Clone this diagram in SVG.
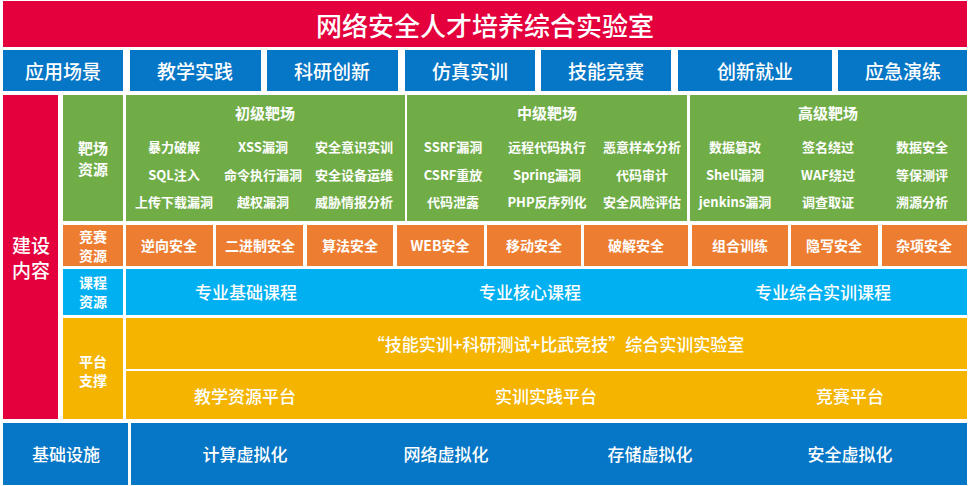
<svg xmlns="http://www.w3.org/2000/svg" width="970" height="486" viewBox="0 0 970 486">
<style>
text{font-family:"Noto Sans CJK SC","Microsoft YaHei",sans-serif;fill:#fff;text-anchor:middle;dominant-baseline:central}
.red{fill:#E4003D}.blue{fill:#0676C6}.green{fill:#70AD47}.orange{fill:#ED7D31}.cyan{fill:#00B0F0}.gold{fill:#F4B400}
.t26{font-size:26px;font-weight:500}.t19{font-size:19px;font-weight:500}.t17{font-size:17px;font-weight:500}
.t15{font-size:15px;font-weight:700}.t14{font-size:14px;font-weight:700}.t13{font-size:13px;font-weight:700}
</style>
<rect width="970" height="486" fill="#fff"/>
<g id="title"><rect class="red" x="3" y="1" width="964" height="46"/><text class="t26" x="485" y="24">网络安全人才培养综合实验室</text></g>
<g id="scenes">
<rect class="blue" x="3" y="50" width="120" height="41"/><text class="t19" x="63" y="70">应用场景</text>
<rect class="blue" x="130" y="50" width="131" height="41"/><text class="t19" x="195" y="70">教学实践</text>
<rect class="blue" x="267" y="50" width="131" height="41"/><text class="t19" x="332" y="70">科研创新</text>
<rect class="blue" x="405" y="50" width="130" height="41"/><text class="t19" x="470" y="70">仿真实训</text>
<rect class="blue" x="541" y="50" width="130" height="41"/><text class="t19" x="606" y="70">技能竞赛</text>
<rect class="blue" x="678" y="50" width="154" height="41"/><text class="t19" x="755" y="70">创新就业</text>
<rect class="blue" x="838" y="50" width="129" height="41"/><text class="t19" x="903" y="70">应急演练</text>
</g>
<g id="build"><rect class="red" x="3" y="95" width="55" height="324"/><text class="t19"><tspan x="31" y="243.5">建设</tspan><tspan x="31" y="268.5">内容</tspan></text></g>
<g id="range">
<rect class="green" x="63" y="95" width="60" height="126"/><text class="t15"><tspan x="93" y="147">靶场</tspan><tspan x="93" y="168">资源</tspan></text>
<rect class="green" x="126" y="95" width="279" height="126"/>
<text class="t15" x="265" y="112">初级靶场</text>
<text class="t13" x="174" y="146">暴力破解</text><text class="t13" x="263" y="146">XSS漏洞</text><text class="t13" x="354" y="146">安全意识实训</text>
<text class="t13" x="174" y="174">SQL注入</text><text class="t13" x="263" y="174">命令执行漏洞</text><text class="t13" x="354" y="174">安全设备运维</text>
<text class="t13" x="174" y="201">上传下载漏洞</text><text class="t13" x="263" y="201">越权漏洞</text><text class="t13" x="354" y="201">威胁情报分析</text>
<rect class="green" x="407" y="95" width="280" height="126"/>
<text class="t15" x="547" y="112">中级靶场</text>
<text class="t13" x="453" y="146">SSRF漏洞</text><text class="t13" x="547" y="146">远程代码执行</text><text class="t13" x="642" y="146">恶意样本分析</text>
<text class="t13" x="453" y="174">CSRF重放</text><text class="t13" x="547" y="174">Spring漏洞</text><text class="t13" x="642" y="174">代码审计</text>
<text class="t13" x="453" y="201">代码泄露</text><text class="t13" x="547" y="201">PHP反序列化</text><text class="t13" x="642" y="201">安全风险评估</text>
<rect class="green" x="690" y="95" width="277" height="126"/>
<text class="t15" x="828" y="112">高级靶场</text>
<text class="t13" x="735" y="146">数据篡改</text><text class="t13" x="828" y="146">签名绕过</text><text class="t13" x="922" y="146">数据安全</text>
<text class="t13" x="735" y="174">Shell漏洞</text><text class="t13" x="828" y="174">WAF绕过</text><text class="t13" x="922" y="174">等保测评</text>
<text class="t13" x="735" y="201">jenkins漏洞</text><text class="t13" x="828" y="201">调查取证</text><text class="t13" x="922" y="201">溯源分析</text>
</g>
<g id="contest">
<rect class="orange" x="63" y="225" width="60" height="41"/><text class="t14"><tspan x="93" y="236">竞赛</tspan><tspan x="93" y="255">资源</tspan></text>
<rect class="orange" x="126" y="225" width="87" height="41"/><text class="t14" x="169" y="245">逆向安全</text>
<rect class="orange" x="216" y="225" width="87" height="41"/><text class="t14" x="260" y="245">二进制安全</text>
<rect class="orange" x="307" y="225" width="86" height="41"/><text class="t14" x="350" y="245">算法安全</text>
<rect class="orange" x="397" y="225" width="87" height="41"/><text class="t14" x="440" y="245">WEB安全</text>
<rect class="orange" x="487" y="225" width="94" height="41"/><text class="t14" x="534" y="245">移动安全</text>
<rect class="orange" x="584" y="225" width="104" height="41"/><text class="t14" x="636" y="245">破解安全</text>
<rect class="orange" x="692" y="225" width="96" height="41"/><text class="t14" x="740" y="245">组合训练</text>
<rect class="orange" x="791" y="225" width="87" height="41"/><text class="t14" x="834" y="245">隐写安全</text>
<rect class="orange" x="882" y="225" width="85" height="41"/><text class="t14" x="924" y="245">杂项安全</text>
</g>
<g id="course">
<rect class="cyan" x="63" y="269" width="60" height="46"/><text class="t14"><tspan x="93" y="282">课程</tspan><tspan x="93" y="301">资源</tspan></text>
<rect class="cyan" x="126" y="269" width="841" height="46"/>
<text class="t17" x="246" y="291">专业基础课程</text><text class="t17" x="530" y="291">专业核心课程</text><text class="t17" x="823" y="291">专业综合实训课程</text>
</g>
<g id="platform">
<rect class="gold" x="63" y="318" width="60" height="101"/><text class="t14"><tspan x="93" y="361">平台</tspan><tspan x="93" y="380">支撑</tspan></text>
<rect class="gold" x="126" y="318" width="841" height="51"/>
<text class="t17" x="556" y="343">“技能实训+科研测试+比武竞技”综合实训实验室</text>
<rect class="gold" x="126" y="371" width="841" height="48"/>
<text class="t17" x="245" y="395">教学资源平台</text><text class="t17" x="546" y="395">实训实践平台</text><text class="t17" x="850" y="395">竞赛平台</text>
</g>
<g id="infra">
<rect class="blue" x="3" y="423" width="125" height="62"/><text class="t17" x="66" y="453">基础设施</text>
<rect class="blue" x="131" y="423" width="836" height="62"/>
<text class="t17" x="245" y="453">计算虚拟化</text><text class="t17" x="446" y="453">网络虚拟化</text><text class="t17" x="650" y="453">存储虚拟化</text><text class="t17" x="850" y="453">安全虚拟化</text>
</g>
<g id="connectors"/>
</svg>
